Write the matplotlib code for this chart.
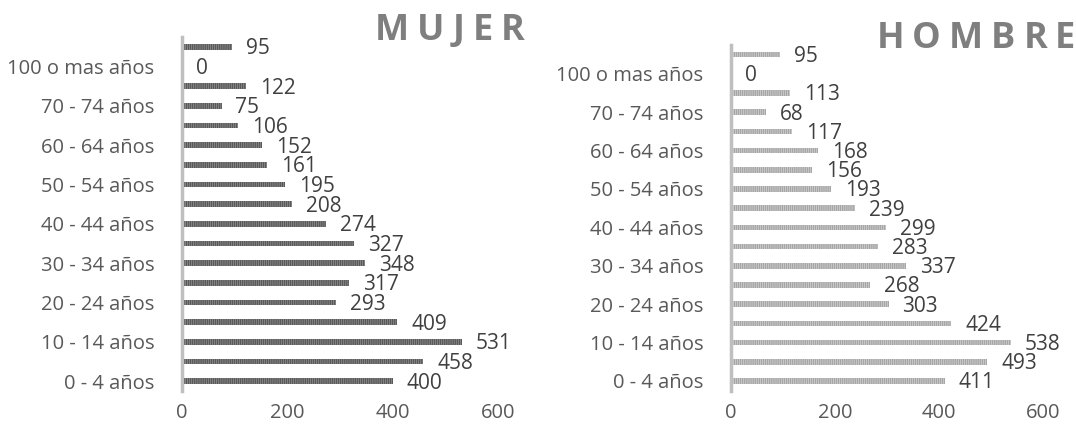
import matplotlib.pyplot as plt
import numpy as np

plt.rcParams['font.family'] = ['Open Sans', 'DejaVu Sans']
plt.rcParams['hatch.linewidth'] = 1.1

# age groups, bottom to top
grupos = ["0 - 4 años", "5 - 9 años", "10 - 14 años", "15 - 19 años", "20 - 24 años",
          "25 - 29 años", "30 - 34 años", "35 - 39 años", "40 - 44 años", "45 - 49 años",
          "50 - 54 años", "55 - 59 años", "60 - 64 años", "65 - 69 años", "70 - 74 años",
          "75 - 79 años", "100 o mas años", "80 o mas años"]
mujer = [400, 458, 531, 409, 293, 317, 348, 327, 274, 208, 195, 161, 152, 106, 75, 122, 0, 95]
hombre = [411, 493, 538, 424, 303, 268, 337, 283, 299, 239, 193, 156, 168, 117, 68, 113, 0, 95]

W, H = 1076, 430
fig = plt.figure(figsize=(W / 100, H / 100), dpi=100)
renderer = fig.canvas.get_renderer()


def spaced_title(txt, cx, cy, gap=8):
    # draw letters one by one so the title gets extra letter spacing
    kw = dict(fontsize=26, fontweight='bold', color='#7f7f7f', va='center', ha='left')
    widths = []
    for ch in txt:
        t = fig.text(0, 0, ch, **kw)
        widths.append(t.get_window_extent(renderer).width)
        t.remove()
    total = sum(widths) + gap * (len(txt) - 1)
    x = cx - total / 2
    for ch, w in zip(txt, widths):
        fig.text(x / W, 1 - cy / H, ch, **kw)
        x += w + gap


panels = [
    ("MUJER", mujer, [182 / W, 39 / H, 316 / W, 354 / H], '#a3a3a3', '#595959', (450, 31)),
    ("HOMBRE", hombre, [731 / W, 39.4 / H, 312 / W, 345.6 / H], '#e0e0e0', '#a6a6a6', (976, 39)),
]

for title, vals, rect, fc, hc, tpos in panels:
    ax = fig.add_axes(rect)
    y = np.arange(len(grupos))
    ax.barh(y, vals, height=0.3, facecolor=fc, edgecolor=hc, hatch='|' * 8, linewidth=0)
    for yi, v in zip(y, vals):
        ax.annotate(str(v), (v, yi), xytext=(14, -2), textcoords='offset pixels',
                    va='center', ha='left', fontsize=15, color='#404040')
    ax.set_xlim(0, 600)
    ax.set_ylim(-0.5, len(grupos) - 0.5)
    ax.set_xticks([0, 200, 400, 600])
    ax.set_yticks(y[::2])
    ax.set_yticklabels(grupos[::2])
    ax.tick_params(length=0, labelsize=14.5, colors='#595959')
    ax.tick_params(axis='x', pad=9)
    ax.tick_params(axis='y', pad=20)
    for s in ['top', 'right', 'bottom']:
        ax.spines[s].set_visible(False)
    ax.spines['left'].set_color('#bfbfbf')
    ax.spines['left'].set_linewidth(2.5)
    spaced_title(title, *tpos)

fig.savefig('out.png', dpi=100)
